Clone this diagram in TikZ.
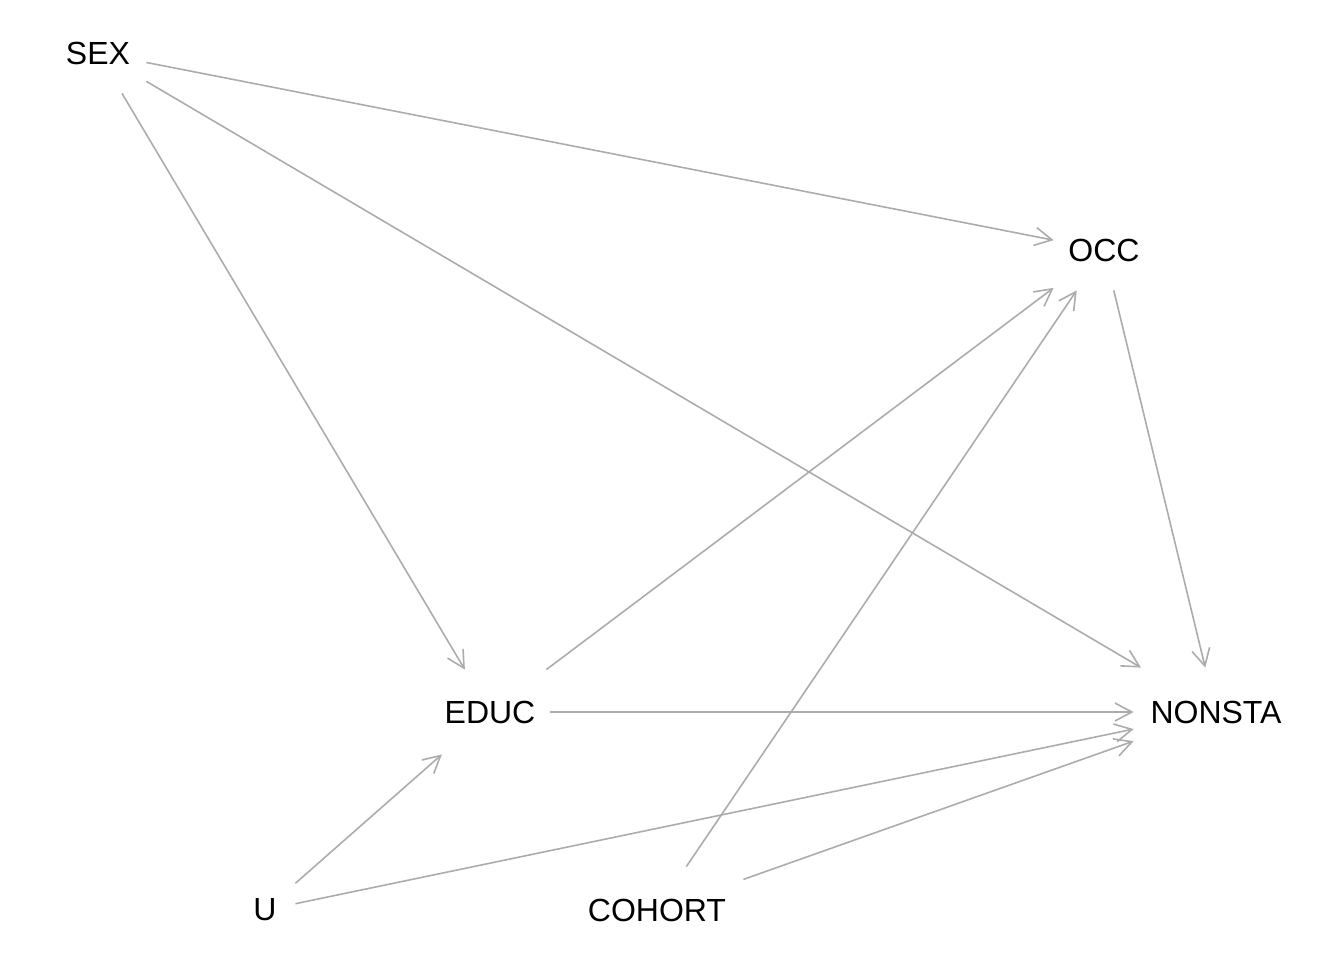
\documentclass[tikz,border=0pt]{standalone}
\usepackage{fontspec}
\setmainfont{Liberation Sans}
\usetikzlibrary{arrows.meta}
\definecolor{edgegray}{RGB}{172,172,172}
\tikzset{
  lbl/.style={rectangle, inner sep=0pt, font=\fontsize{16pt}{18pt}\selectfont, text=black},
  edge/.style={draw=edgegray, line width=0.8pt, -{Straight Barb[length=8.5pt,width=9pt]}}
}
\begin{document}
\begin{tikzpicture}[x=0.5pt,y=-0.5pt]
\useasboundingbox (0,0) rectangle (1344,960);
\node[lbl, minimum width=48pt, minimum height=40pt] (sex) at (98,53) {SEX};
\node[lbl, minimum width=50pt, minimum height=40pt] (occ) at (1104,250) {OCC};
\node[lbl, minimum width=60pt, minimum height=42pt] (educ) at (490,712) {EDUC};
\node[lbl, minimum width=82pt, minimum height=44pt] (nonsta) at (1216,712) {NONSTA};
\node[lbl, minimum width=30pt, minimum height=28pt] (u) at (265,910) {U};
\node[lbl, minimum width=86pt, minimum height=43pt] (cohort) at (657,910) {COHORT};
\draw[edge] (sex) -- (occ);
\draw[edge] (sex) -- (nonsta);
\draw[edge] (sex) -- (educ);
\draw[edge] (educ) -- (occ);
\draw[edge] (educ) -- (nonsta);
\draw[edge] (occ) -- (nonsta);
\draw[edge] (u) -- (educ);
\draw[edge] (u) -- (nonsta);
\draw[edge] (cohort) -- (occ);
\draw[edge] (cohort) -- (nonsta);
\end{tikzpicture}
\end{document}
